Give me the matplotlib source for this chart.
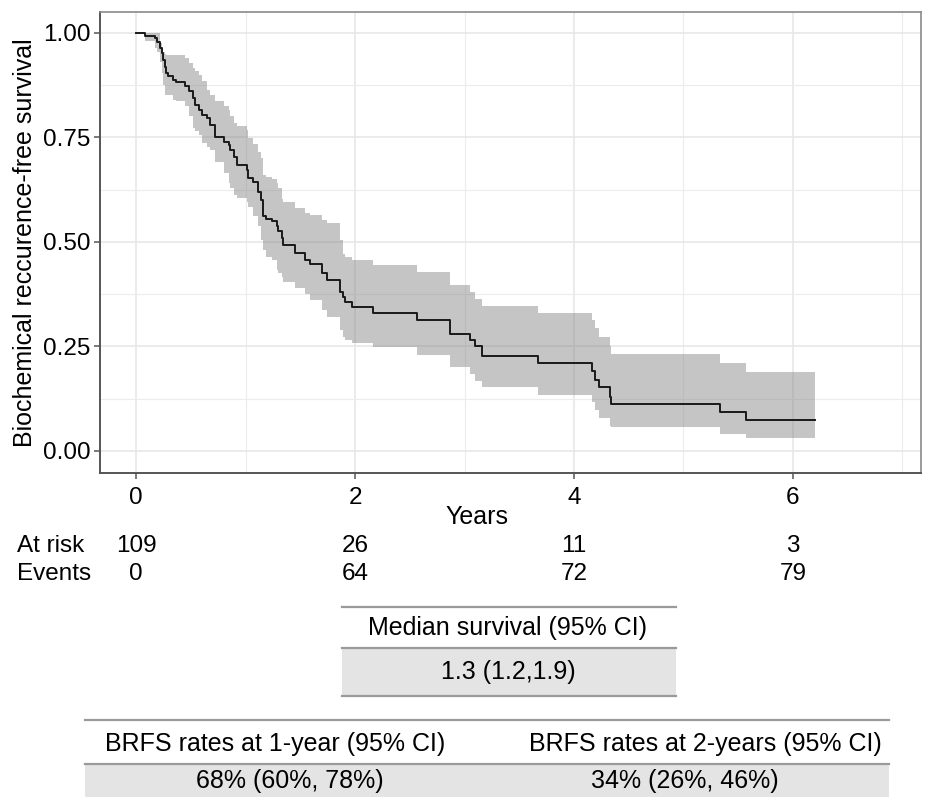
import matplotlib
matplotlib.use("Agg")
import matplotlib.pyplot as plt
from matplotlib.lines import Line2D
from matplotlib.patches import Rectangle
from matplotlib.transforms import blended_transform_factory
from matplotlib.ticker import MultipleLocator

plt.rcParams["font.family"] = ["Liberation Sans", "DejaVu Sans"]

# Kaplan-Meier steps (value holds from that time on)
times = [0, 0.08, 0.17, 0.19, 0.22, 0.235, 0.25, 0.265, 0.27, 0.29,
         0.34, 0.36, 0.45, 0.48, 0.52, 0.54, 0.57, 0.60, 0.645, 0.675,
         0.72, 0.80, 0.845, 0.86, 0.89, 0.92, 1.01, 1.025, 1.07, 1.115,
         1.14, 1.155, 1.19, 1.24, 1.285, 1.30, 1.33, 1.345, 1.45, 1.54,
         1.59, 1.70, 1.74, 1.86, 1.89, 1.91, 1.97, 2.16, 2.57, 2.87,
         3.05, 3.10, 3.16, 3.67, 4.16, 4.19, 4.23, 4.33, 4.34, 5.33,
         5.57]
surv = [1.000, 0.993, 0.987, 0.979, 0.963, 0.951, 0.935, 0.919, 0.903, 0.897,
        0.888, 0.882, 0.872, 0.860, 0.844, 0.828, 0.816, 0.804, 0.796, 0.780,
        0.752, 0.740, 0.732, 0.720, 0.704, 0.684, 0.672, 0.652, 0.643, 0.620,
        0.600, 0.561, 0.555, 0.549, 0.537, 0.525, 0.509, 0.493, 0.473, 0.457,
        0.447, 0.425, 0.409, 0.381, 0.369, 0.357, 0.344, 0.331, 0.313, 0.279,
        0.266, 0.250, 0.228, 0.210, 0.191, 0.170, 0.152, 0.130, 0.111, 0.092,
        0.073]
upper = [1.000, 1.000, 1.000, 1.000, 0.975, 0.965, 0.955, 0.950, 0.947, 0.947,
         0.947, 0.947, 0.940, 0.927, 0.915, 0.910, 0.900, 0.884, 0.864, 0.852,
         0.836, 0.826, 0.816, 0.800, 0.785, 0.777, 0.768, 0.748, 0.735, 0.716,
         0.700, 0.660, 0.655, 0.650, 0.642, 0.630, 0.602, 0.595, 0.581, 0.569,
         0.565, 0.553, 0.545, 0.505, 0.471, 0.465, 0.457, 0.445, 0.429, 0.397,
         0.381, 0.363, 0.347, 0.329, 0.313, 0.293, 0.273, 0.250, 0.231, 0.209,
         0.189]
lower = [1.000, 0.980, 0.965, 0.955, 0.930, 0.905, 0.876, 0.852, 0.852, 0.852,
         0.840, 0.836, 0.824, 0.800, 0.772, 0.765, 0.756, 0.736, 0.728, 0.720,
         0.690, 0.664, 0.640, 0.630, 0.612, 0.605, 0.595, 0.584, 0.561, 0.537,
         0.505, 0.481, 0.465, 0.457, 0.433, 0.425, 0.415, 0.405, 0.390, 0.375,
         0.361, 0.337, 0.320, 0.289, 0.273, 0.265, 0.259, 0.248, 0.229, 0.200,
         0.184, 0.168, 0.152, 0.134, 0.118, 0.098, 0.078, 0.060, 0.056, 0.041,
         0.030]
t_end = 6.2

risk_times = [0, 2, 4, 6]
at_risk = [109, 26, 11, 3]
events = [0, 64, 72, 79]

median_header = "Median survival (95% CI)"
median_value = "1.3 (1.2,1.9)"
rate_headers = ["BRFS rates at 1-year (95% CI)", "BRFS rates at 2-years (95% CI)"]
rate_values = ["68% (60%, 78%)", "34% (26%, 46%)"]

W, H = 927, 797


def fx(px):
    return px / W


def fy(py):
    return 1 - py / H


fig = plt.figure(figsize=(W / 100, H / 100), dpi=100)
ax = fig.add_axes([fx(100), fy(473), fx(921) - fx(100), fy(12) - fy(473)])

t = times + [t_end]
s = surv + [surv[-1]]
up = upper + [upper[-1]]
lo = lower + [lower[-1]]

ax.fill_between(t, lo, up, step="post", color="#808080", alpha=0.45, lw=0, zorder=2)
ax.step(t, s, where="post", color="#1a1a1a", lw=1.4, zorder=3)

ax.set_xlim(-0.33, 7.17)
ax.set_ylim(-0.053, 1.05)
ax.xaxis.set_major_locator(MultipleLocator(2))
ax.xaxis.set_minor_locator(MultipleLocator(1))
ax.yaxis.set_minor_locator(MultipleLocator(0.125))
ax.set_yticks([0, 0.25, 0.5, 0.75, 1.0])
ax.set_yticklabels(["0.00", "0.25", "0.50", "0.75", "1.00"])
ax.grid(which="major", color="#e6e6e6", lw=1.1, zorder=0)
ax.grid(which="minor", color="#ececec", lw=0.8, zorder=0)
ax.set_axisbelow(True)
ax.tick_params(which="major", length=4, width=1.1, color="#555555",
               labelsize=17.5, labelcolor="black", pad=3)
ax.tick_params(which="minor", length=0)
ax.tick_params(axis="x", pad=6)
for side in ["top", "right"]:
    ax.spines[side].set_color("#8a8a8a")
    ax.spines[side].set_linewidth(1.2)
for side in ["left", "bottom"]:
    ax.spines[side].set_color("#555555")
    ax.spines[side].set_linewidth(1.4)

ax.set_ylabel("Biochemical reccurence-free survival", fontsize=18, labelpad=4)
ax.set_xlabel("Years", fontsize=18, labelpad=0)
ax.xaxis.set_label_coords((477 - 100) / 821, (473 - 505) / 461)

# risk table under the x axis
tr = blended_transform_factory(ax.transData, fig.transFigure)
fig.text(fx(17), fy(546), "At risk", fontsize=17.5, ha="left", va="center")
fig.text(fx(17), fy(574), "Events", fontsize=17.5, ha="left", va="center")
for x, n, e in zip(risk_times, at_risk, events):
    ax.text(x, fy(546), str(n), transform=tr, fontsize=17.5, ha="center", va="center")
    ax.text(x, fy(574), str(e), transform=tr, fontsize=17.5, ha="center", va="center")

line_col = "#9a9a9a"
fill_col = "#e4e4e4"


def hline(x0, x1, y):
    fig.add_artist(Line2D([fx(x0), fx(x1)], [fy(y), fy(y)], color=line_col, lw=1.6))


def box(x0, x1, y0, y1):
    fig.add_artist(Rectangle((fx(x0), fy(y1)), fx(x1) - fx(x0), fy(y0) - fy(y1),
                             facecolor=fill_col, edgecolor="none"))


# median survival table
box(342, 676, 648, 696)
hline(342, 676, 607)
hline(342, 676, 648)
hline(342, 676, 696)
fig.text(fx(508), fy(628), median_header, fontsize=18, ha="center", va="center")
fig.text(fx(508), fy(672), median_value, fontsize=18, ha="center", va="center")

# BRFS rate table
box(85, 889, 764, 797)
hline(85, 889, 720)
hline(85, 889, 764)
for xh, xv, hd, val in zip([275, 705], [290, 685], rate_headers, rate_values):
    fig.text(fx(xh), fy(744), hd, fontsize=18, ha="center", va="center")
    fig.text(fx(xv), fy(781), val, fontsize=18, ha="center", va="center")

fig.savefig("out.png", dpi=100)
